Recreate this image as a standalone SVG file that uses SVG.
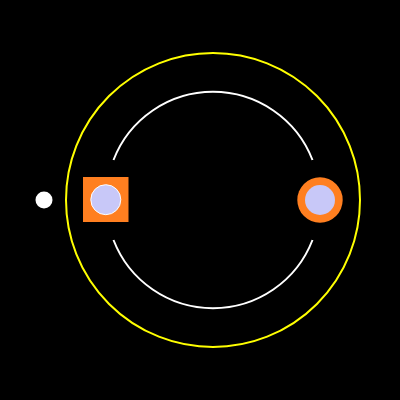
<svg xmlns="http://www.w3.org/2000/svg" width="400" height="400" viewBox="0 0 400 400">
<style>
.arc{fill:none;stroke:#ffffff;stroke-width:2}
.lav{fill:#c8c8f8}
.orange{fill:#ff7f20}
</style>
<rect x="0" y="0" width="400" height="400" fill="#000000"/>
<g id="connectors">
<circle cx="213" cy="200" r="147" fill="none" stroke="#ffff00" stroke-width="2"/>
<path class="arc" d="M113.5,160 A106.7,106.7 0 0 1 312.5,160"/>
<path class="arc" d="M113.5,240 A106.7,106.7 0 0 0 312.5,240"/>
</g>
<g id="dot">
<circle cx="44" cy="200" r="8.5" fill="#ffffff"/>
</g>
<g id="left-node">
<rect class="orange" x="83" y="177" width="45.5" height="45"/>
<circle class="lav" cx="105.8" cy="199.7" r="15" stroke="#ffffff" stroke-width="1"/>
</g>
<g id="right-node">
<circle class="orange" cx="320" cy="200" r="22.7"/>
<circle class="lav" cx="320" cy="200" r="15"/>
</g>
</svg>
